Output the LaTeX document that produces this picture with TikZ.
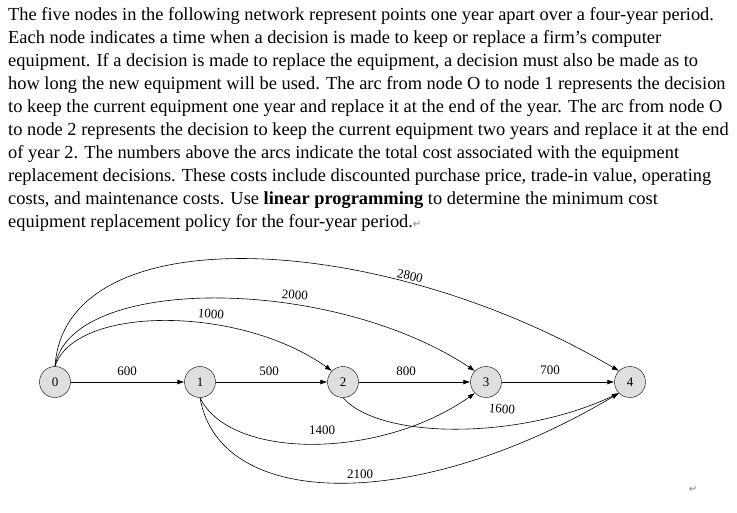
\documentclass[tikz,border=0pt]{standalone}
\usetikzlibrary{arrows.meta}
\usepackage{fontspec}
\setmainfont{Liberation Serif}
\newfontfamily\symf{DejaVu Sans}
\begin{document}
\begin{tikzpicture}[x=1pt,y=-1pt,
  nd/.style={circle,draw,fill=gray!25,minimum size=31pt,inner sep=0pt,font=\fontsize{13}{14}\selectfont},
  ln/.style={anchor=base west,inner sep=0pt,font=\fontsize{18.4}{20}\selectfont},
  lab/.style={font=\fontsize{13}{14}\selectfont,inner sep=0pt},
  arc/.style={draw,semithick,-{Latex[length=7pt,width=5pt]}}]
\useasboundingbox (0,0) rectangle (737,512);
\node[ln] (t1) at (8,20) {The five nodes in the following network represent points one year apart over a four-year period.};
\node[ln] (t2) at (8,43) {Each node indicates a time when a decision is made to keep or replace a firm's computer};
\node[ln] (t3) at (8,66) {equipment. If a decision is made to replace the equipment, a decision must also be made as to};
\node[ln] (t4) at (8,89) {how long the new equipment will be used. The arc from node O to node 1 represents the decision};
\node[ln] (t5) at (8,112) {to keep the current equipment one year and replace it at the end of the year. The arc from node O};
\node[ln] (t6) at (8,135) {to node 2 represents the decision to keep the current equipment two years and replace it at the end};
\node[ln] (t7) at (8,158) {of year 2. The numbers above the arcs indicate the total cost associated with the equipment};
\node[ln] (t8) at (8,181) {replacement decisions. These costs include discounted purchase price, trade-in value, operating};
\node[ln] (t9) at (8,204) {costs, and maintenance costs. Use \textbf{linear programming} to determine the minimum cost};
\node[ln] (t10) at (8,227) {equipment replacement policy for the four-year period.{\color{gray}\symf\fontsize{10}{10}\selectfont ↵}};
\node[nd] (n0) at (55,382) {0};
\node[nd] (n1) at (200,382) {1};
\node[nd] (n2) at (343,382) {2};
\node[nd] (n3) at (486,382) {3};
\node[nd] (n4) at (630,382) {4};
\path[arc] (n0) -- (n1);
\path[arc] (n1) -- (n2);
\path[arc] (n2) -- (n3);
\path[arc] (n3) -- (n4);
\path[arc] (n0.north) .. controls (75,305) and (240,305) .. (n2.north west);
\path[arc] (n0.north) .. controls (70,275) and (330,275) .. (n3.north west);
\path[arc] (n0.north) .. controls (65,215) and (380,230) .. (n4.north west);
\path[arc] (n1.south) .. controls (230,460) and (380,460) .. (n3.south west);
\path[arc] (n2.south) .. controls (380,440) and (520,440) .. (n4.south west);
\path[arc] (n1.south) .. controls (220,512) and (420,512) .. (n4.south west);
\node[lab] (l1) at (127,371) {600};
\node[lab] (l2) at (269,371) {500};
\node[lab] (l3) at (406,371) {800};
\node[lab] (l4) at (550,370) {700};
\node[lab,rotate=-5] (l5) at (211,314) {1000};
\node[lab,rotate=-4] (l6) at (295,295) {2000};
\node[lab,rotate=-12] (l7) at (410,276) {2800};
\node[lab] (l8) at (322,430) {1400};
\node[lab,rotate=-5] (l9) at (502,409) {1600};
\node[lab] (l10) at (360,474) {2100};
\node[text=gray,font=\symf\fontsize{10}{10}\selectfont] (ret) at (693,489) {↵};
\end{tikzpicture}
\end{document}
